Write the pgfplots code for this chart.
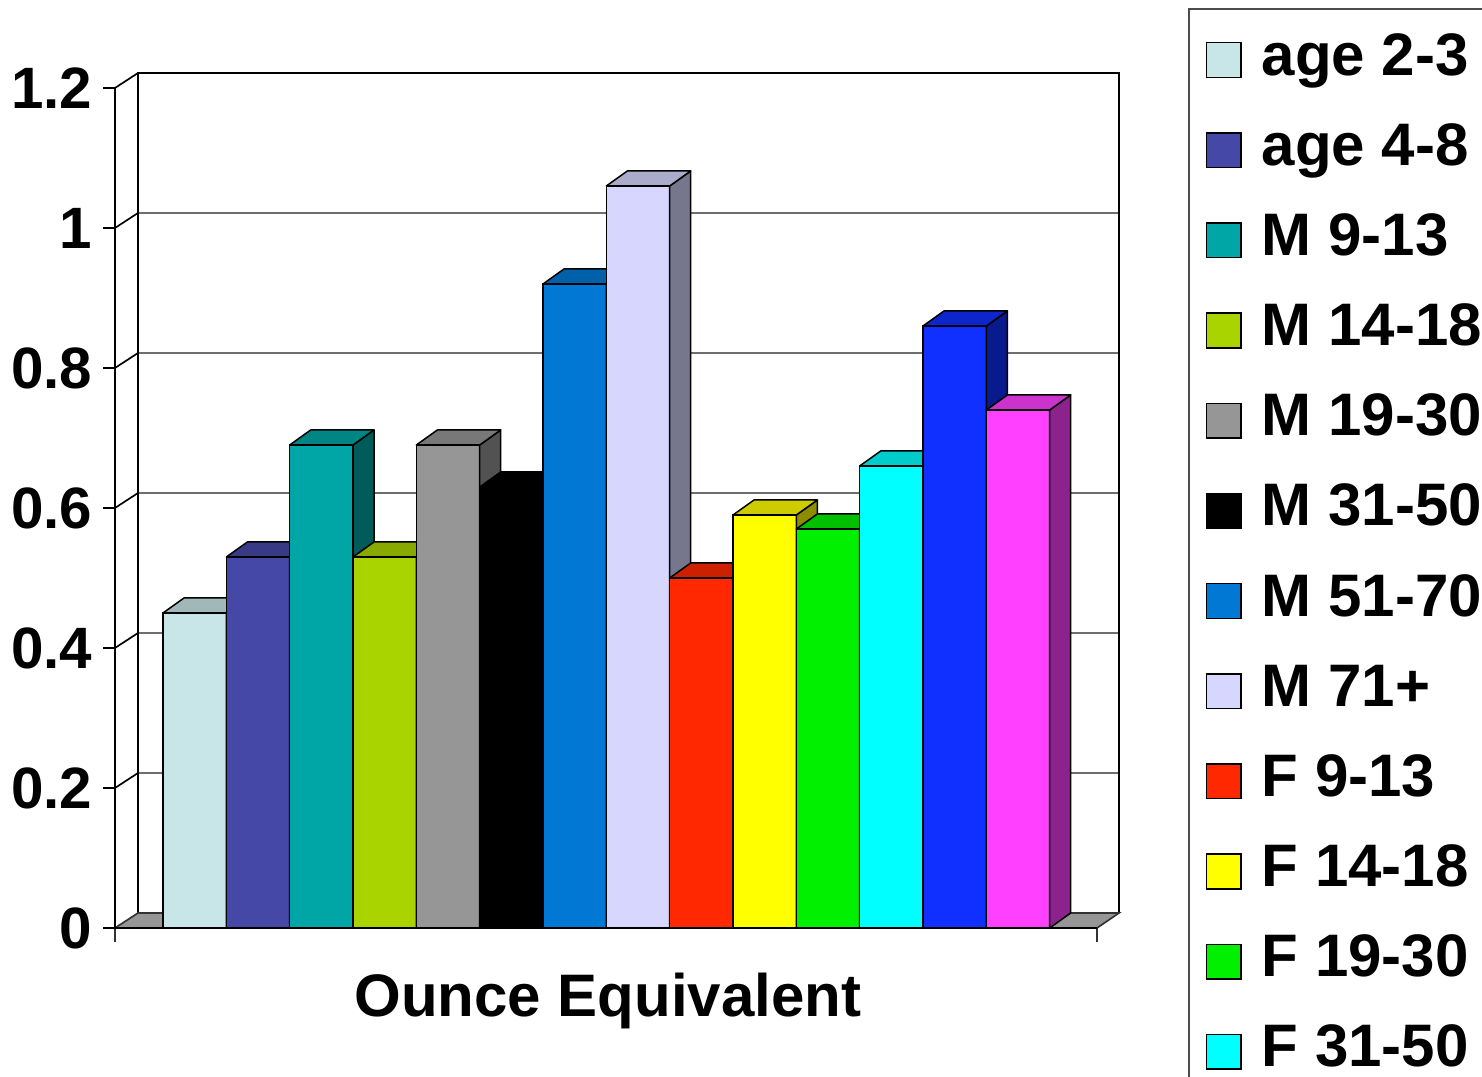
\documentclass[border=0pt]{standalone}
\usepackage{pgfplots}
\pgfplotsset{compat=1.18}
\usepackage{fontspec}
\setmainfont{Liberation Sans}

% face colours of the fourteen groups
\definecolor{cA}{RGB}{200,230,232}
\definecolor{cB}{RGB}{70,72,168}
\definecolor{cC}{RGB}{0,166,166}
\definecolor{cD}{RGB}{170,212,0}
\definecolor{cE}{RGB}{150,150,150}
\definecolor{cF}{RGB}{0,0,0}
\definecolor{cG}{RGB}{0,120,212}
\definecolor{cH}{RGB}{214,214,255}
\definecolor{cI}{RGB}{255,40,0}
\definecolor{cJ}{RGB}{255,255,0}
\definecolor{cK}{RGB}{0,240,0}
\definecolor{cL}{RGB}{0,255,255}
\definecolor{cM}{RGB}{16,48,255}
\definecolor{cN}{RGB}{255,64,255}
\definecolor{floorgray}{RGB}{150,150,150}
\definecolor{gridgray}{RGB}{110,110,110}

\pgfdeclareplotmark{empty}{}

% bar geometry (pt): half front width and depth offset
\def\hbw{9.5pt}
\def\ddx{6.3pt}
\def\ddy{4.5pt}

% one bar: front face as ybar, top and side faces drawn at the same data point
\newcommand{\onebar}[4]{%
  \addplot[ybar, bar width=1, bar shift=0pt, fill=#3, draw=black, line width=0.45pt]
    coordinates {(#1,#2)};
  \addlegendentry{#4}
  \addplot[forget plot, scatter, only marks, mark=empty,
    visualization depends on={rawy \as \barv},
    scatter/@pre marker code/.code={%
      \pgfmathsetmacro\barh{\barv*210}%
      \filldraw[fill=#3!55!black, draw=black, line width=0.45pt, line join=round]
        (\hbw,0pt) -- ++(\ddx,\ddy) -- ++(0pt,-\barh pt) -- ++(-\ddx,-\ddy) -- cycle;
      \filldraw[fill=#3!80!black, draw=black, line width=0.45pt, line join=round]
        (-\hbw,0pt) -- ++(\ddx,\ddy) -- ++(19pt,0pt) -- (\hbw,0pt) -- cycle;
    },
    scatter/@post marker code/.code={}]
    coordinates {(#1,#2)};
}

\begin{document}
\begin{tikzpicture}
\path[use as bounding box] (0,0) rectangle (444.6pt,323.1pt);
\clip (0,0) rectangle (444.6pt,323.1pt);

% box behind the bars: floor, back wall, side wall and grid
\begin{scope}[x=0.3pt, y=-0.3pt, shift={(0pt,323.1pt)}]
  \fill[white] (138,73) rectangle (1119,913);
  \foreach \g in {213,353,493,633,773}
    \draw[gridgray, line width=0.6pt] (138,\g) -- (1119,\g);
  \foreach \g in {88,228,368,508,648,788}
    \draw[black, line width=0.5pt] (115,\g) -- (138,\g-15);
  \draw[black, line width=0.6pt] (138,913) -- (138,73) -- (1119,73) -- (1119,913);
  \filldraw[fill=floorgray, draw=black!80, line width=0.5pt]
    (115,928) -- (138,913) -- (1119,913) -- (1097,928) -- cycle;
  \draw[black!80, line width=0.6pt] (115,928) -- (115,942);
  \draw[black!80, line width=0.6pt] (1097,928) -- (1097,942);
\end{scope}

\begin{axis}[
  at={(34.5pt,44.7pt)}, anchor=south west,
  x=19.0pt, y=210pt,
  xmin=-1.258, xmax=14.248, ymin=0, ymax=1.2,
  clip=false, clip marker paths=true,
  axis x line*=bottom, axis y line*=left,
  axis line style={black, line width=0.6pt, -},
  xtick=\empty,
  ytick={0,0.2,0.4,0.6,0.8,1,1.2},
  yticklabels={0,0.2,0.4,0.6,0.8,1,1.2},
  tick align=outside, major tick length=3.6pt,
  tick style={black, line width=0.6pt},
  yticklabel style={font=\fontsize{17.5}{18}\selectfont\bfseries, inner sep=1pt, xshift=-2pt},
  xlabel={Ounce Equivalent},
  xlabel style={font=\fontsize{18}{18}\selectfont\bfseries,
    at={(axis description cs:0.502,-0.1048)}, anchor=base},
  legend cell align=left,
  legend image code/.code={%
    \draw[#1, draw=black, line width=0.45pt] (0pt,-5.2pt) rectangle (10.4pt,5.2pt);},
  legend style={at={(axis description cs:1.0927,1.0952)}, anchor=north west,
    draw=black!70, line width=0.6pt, fill=white,
    font=\fontsize{18}{18}\selectfont\bfseries,
    inner xsep=5pt, inner ysep=4.8pt,
    row sep=6.05pt,
    nodes={text height=13pt, text depth=4pt, inner ysep=2pt},
    /tikz/column 1/.style={column sep=4pt}},
]
\onebar{0}{0.45}{cA}{age 2-3}
\onebar{1}{0.53}{cB}{age 4-8}
\onebar{2}{0.69}{cC}{M 9-13}
\onebar{3}{0.53}{cD}{M 14-18}
\onebar{4}{0.69}{cE}{M 19-30}
\onebar{5}{0.63}{cF}{M 31-50}
\onebar{6}{0.92}{cG}{M 51-70}
\onebar{7}{1.06}{cH}{M 71+}
\onebar{8}{0.50}{cI}{F 9-13}
\onebar{9}{0.59}{cJ}{F 14-18}
\onebar{10}{0.57}{cK}{F 19-30}
\onebar{11}{0.66}{cL}{F 31-50}
\onebar{12}{0.86}{cM}{F 51-70}
\onebar{13}{0.74}{cN}{F 71+}
\end{axis}
\end{tikzpicture}
\end{document}
